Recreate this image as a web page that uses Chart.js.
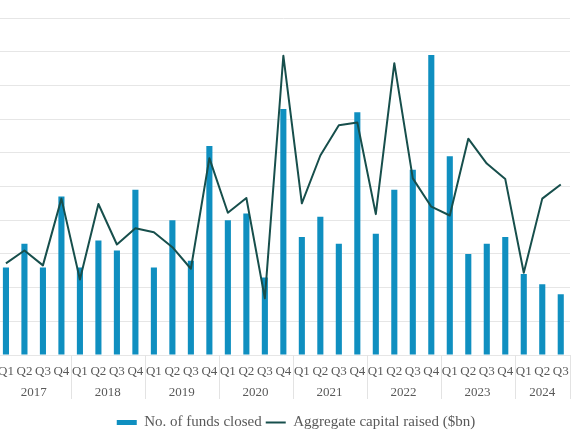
<!DOCTYPE html>
<html>
<head>
<meta charset="utf-8">
<title>Funds closed and capital raised</title>
<script src="https://cdn.jsdelivr.net/npm/chart.js@4.4.1/dist/chart.umd.min.js"></script>
<style>
    html, body { margin: 0; padding: 0; background: #fff; overflow: hidden; }
    .chart-wrap { position: absolute; left: -11px; top: 0; width: 614px; height: 440px; }
</style>
</head>
<body>
<div class="chart-wrap"><canvas id="fundChart"></canvas></div>
<script>
// Quarter / year labels
const quarters = ['Q1', 'Q2', 'Q3', 'Q4', 'Q1', 'Q2', 'Q3', 'Q4', 'Q1', 'Q2', 'Q3', 'Q4',
    'Q1', 'Q2', 'Q3', 'Q4', 'Q1', 'Q2', 'Q3', 'Q4', 'Q1', 'Q2', 'Q3', 'Q4',
    'Q1', 'Q2', 'Q3', 'Q4', 'Q1', 'Q2', 'Q3'];
const years = ['2017', '2017', '2017', '2017', '2018', '2018', '2018', '2018', '2019', '2019', '2019', '2019',
    '2020', '2020', '2020', '2020', '2021', '2021', '2021', '2021', '2022', '2022', '2022', '2022',
    '2023', '2023', '2023', '2023', '2024', '2024', '2024'];

// Series values
const fundsClosed = [26, 33, 26, 47, 26, 34, 31, 49, 26, 40, 28, 62,
    40, 42, 23, 73, 35, 41, 33, 72, 36, 49, 55, 89,
    59, 30, 33, 35, 24, 21, 18];
const capitalRaised = [13.6, 15.5, 13.3, 23.2, 11.2, 22.4, 16.4, 18.8, 18.2, 16.0, 12.8, 29.2,
    21.1, 23.3, 8.4, 44.4, 22.5, 29.6, 34.1, 34.5, 20.9, 43.3, 26.2, 22.0,
    20.7, 32.1, 28.4, 26.1, 12.2, 23.2, 25.3];

const textColor = '#595959';
const fontFamily = '"Liberation Serif", "DejaVu Serif", serif';

document.addEventListener('DOMContentLoaded', function() {
    const canvas = document.getElementById('fundChart');

    // Year row underneath the quarter labels, with separators between years
    const yearGroups = {
        id: 'yearGroups',
        afterDraw(chart) {
            const ctx = chart.ctx;
            const x = chart.scales.x;
            const bottom = chart.chartArea.bottom;
            const groups = [];
            years.forEach((y, i) => {
                const last = groups[groups.length - 1];
                if (last && last.year === y) last.end = i;
                else groups.push({ year: y, start: i, end: i });
            });
            ctx.save();
            ctx.strokeStyle = '#e3e3e3';
            ctx.lineWidth = 1;
            ctx.fillStyle = textColor;
            ctx.font = '13px ' + fontFamily;
            ctx.textAlign = 'center';
            ctx.textBaseline = 'middle';
            groups.forEach(g => {
                const left = x.getPixelForValue(g.start - 0.5);
                const right = x.getPixelForValue(g.end + 0.5);
                [left, right].forEach(px => {
                    ctx.beginPath();
                    ctx.moveTo(Math.round(px) + 0.5, bottom);
                    ctx.lineTo(Math.round(px) + 0.5, bottom + 44);
                    ctx.stroke();
                });
                ctx.fillText(g.year, (left + right) / 2, bottom + 37.5);
            });
            ctx.restore();
        }
    };

    new Chart(canvas, {
        type: 'bar',
        data: {
            labels: quarters,
            datasets: [{
                label: 'No. of funds closed',
                data: fundsClosed,
                backgroundColor: '#0f8fc0',
                borderWidth: 0,
                pointStyle: 'rect',
                yAxisID: 'y',
                order: 1,
                categoryPercentage: 1,
                barPercentage: 0.33
            }, {
                type: 'line',
                label: 'Aggregate capital raised ($bn)',
                data: capitalRaised,
                borderColor: '#174f4c',
                backgroundColor: '#174f4c',
                borderWidth: 2,
                borderJoinStyle: 'round',
                pointRadius: 0,
                pointStyle: 'line',
                tension: 0,
                yAxisID: 'y1',
                order: 0
            }]
        },
        options: {
            responsive: true,
            maintainAspectRatio: false,
            animation: false,
            layout: { padding: { top: 18, left: 0, right: 0, bottom: 0 } },
            plugins: {
                legend: {
                    position: 'bottom',
                    labels: {
                        usePointStyle: true,
                        pointStyleWidth: 20,
                        boxHeight: 5,
                        padding: 4,
                        color: textColor,
                        font: { family: fontFamily, size: 15 },
                        sort: (a, b) => a.datasetIndex - b.datasetIndex
                    }
                },
                tooltip: { enabled: false }
            },
            scales: {
                x: {
                    grid: { display: false, drawTicks: false },
                    border: { display: false },
                    ticks: {
                        color: textColor,
                        padding: 9,
                        maxRotation: 0,
                        autoSkip: false,
                        font: { family: fontFamily, size: 13 }
                    },
                    afterFit: function(scale) { scale.height = 56; }
                },
                y: {
                    min: 0,
                    max: 100,
                    ticks: { display: false, stepSize: 10 },
                    grid: { color: '#e6e6e6', drawTicks: false },
                    border: { display: false },
                    afterFit: function(scale) { scale.width = 0; }
                },
                y1: {
                    position: 'right',
                    min: 0,
                    max: 50,
                    ticks: { display: false },
                    grid: { display: false, drawTicks: false },
                    border: { display: false },
                    afterFit: function(scale) { scale.width = 33; }
                }
            }
        },
        plugins: [yearGroups]
    });
});
</script>
</body>
</html>
